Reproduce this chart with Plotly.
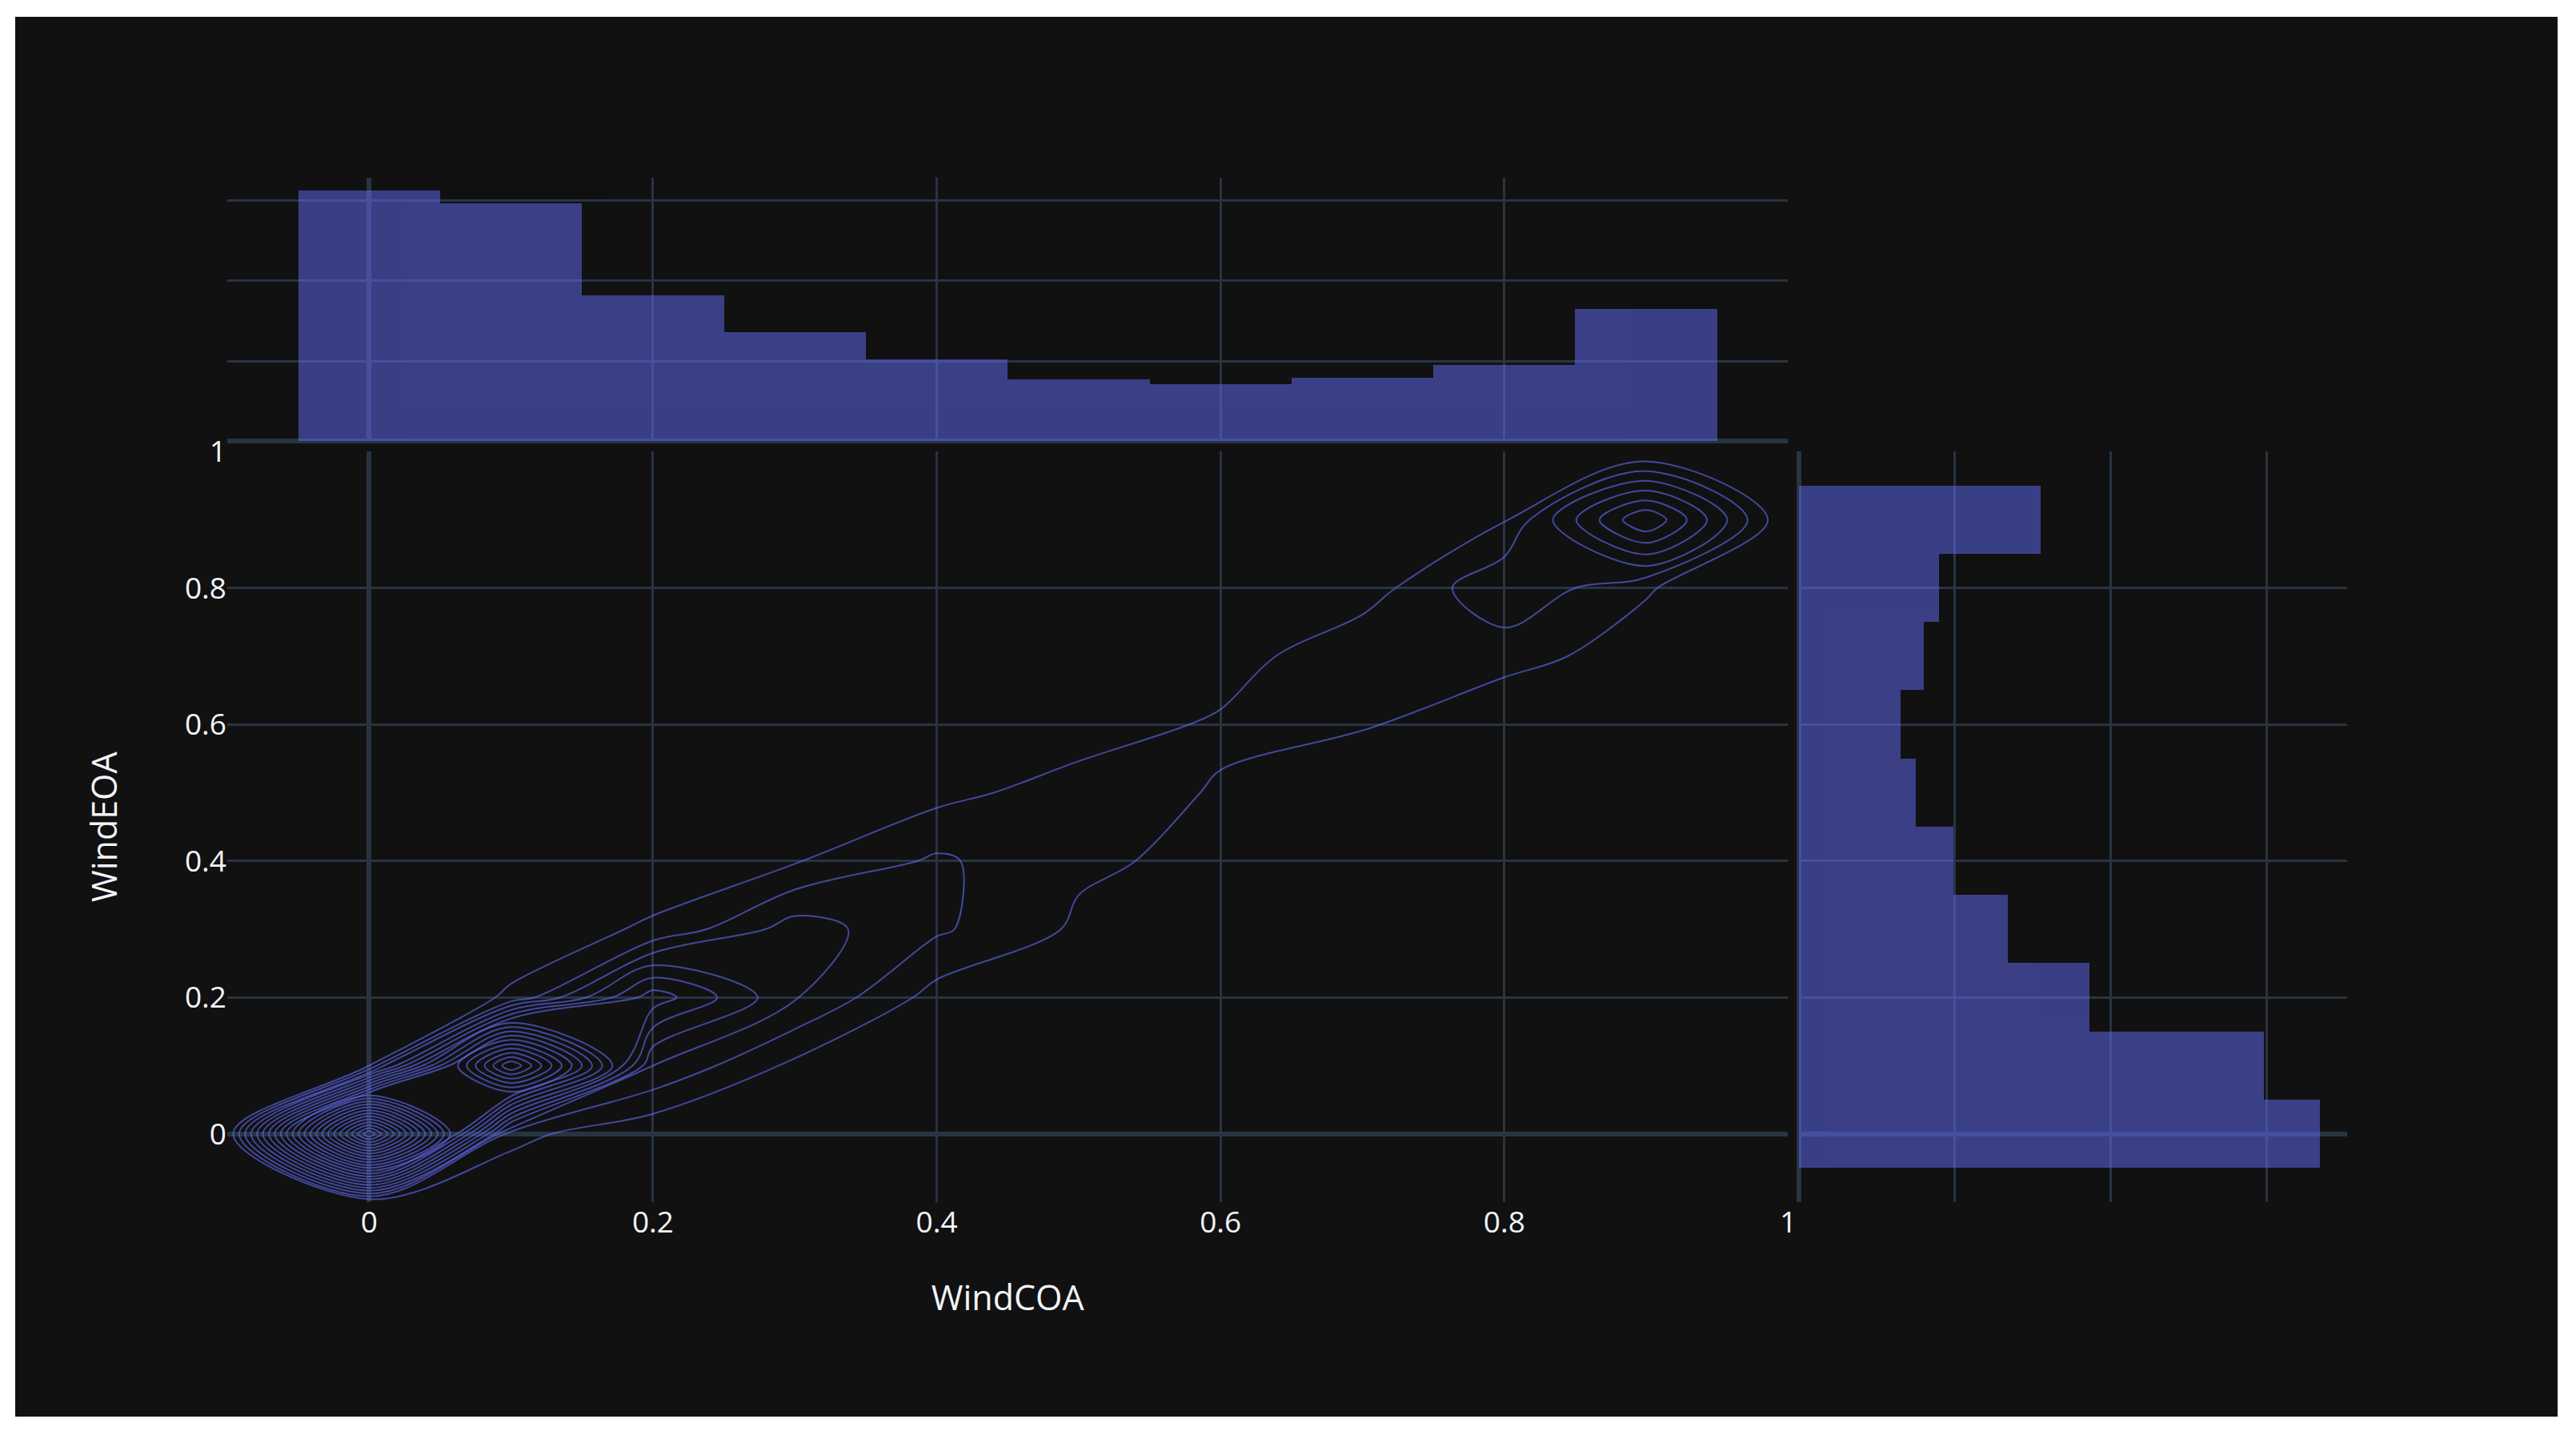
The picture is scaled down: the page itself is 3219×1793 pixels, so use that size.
import plotly.graph_objects as go

# bin centres of the two wind variables
wind_coa = [0.0, 0.1, 0.2, 0.3, 0.4, 0.5, 0.6, 0.7, 0.8, 0.9]
wind_eoa = [0.0, 0.1, 0.2, 0.3, 0.4, 0.5, 0.6, 0.7, 0.8, 0.9]

# counts per (WindEOA row, WindCOA column)
pair_counts = [
    [287, 16, 2, 4, 2, 1, 1, 3, 7, 11],
    [12, 204, 36, 9, 7, 6, 4, 4, 6, 10],
    [4, 13, 79, 37, 7, 11, 11, 9, 4, 11],
    [2, 8, 13, 42, 26, 10, 9, 7, 6, 11],
    [1, 11, 8, 11, 26, 14, 9, 4, 5, 10],
    [1, 10, 8, 9, 8, 18, 11, 4, 2, 4],
    [1, 9, 9, 2, 5, 5, 14, 13, 3, 4],
    [1, 7, 9, 5, 5, 2, 5, 23, 16, 7],
    [1, 8, 7, 7, 5, 4, 5, 5, 35, 13],
    [2, 11, 11, 10, 11, 6, 2, 7, 11, 84],
]

BLUE = "#636efa"
GRID = "#283442"
BG = "rgb(17,17,17)"

xs, ys, ws = [], [], []
for j, yv in enumerate(wind_eoa):
    for i, xv in enumerate(wind_coa):
        xs.append(xv)
        ys.append(yv)
        ws.append(pair_counts[j][i])

hist_bins = dict(start=-0.05, end=0.95, size=0.1)
# one empty bin either side so the density contours close on the edges
contour_bins = dict(start=-0.15, end=1.05, size=0.1)

fig = go.Figure()

fig.add_trace(go.Histogram2dContour(
    x=xs, y=ys, z=ws, histfunc="sum",
    xbins=contour_bins, ybins=contour_bins,
    autocontour=False,
    contours=dict(coloring="none", start=12, end=288, size=12),
    line=dict(color="rgba(99,110,250,0.6)", width=2),
    showscale=False,
    xaxis="x", yaxis="y",
))

fig.add_trace(go.Histogram(
    x=xs, y=ws, histfunc="sum", xbins=hist_bins,
    marker=dict(color=BLUE), opacity=0.5,
    xaxis="x3", yaxis="y3",
))

fig.add_trace(go.Histogram(
    y=ys, x=ws, histfunc="sum", ybins=hist_bins, orientation="h",
    marker=dict(color=BLUE), opacity=0.5,
    xaxis="x2", yaxis="y2",
))

axis_common = dict(gridcolor=GRID, gridwidth=3, zerolinecolor=GRID,
                   zerolinewidth=6, ticks="", showline=False)

fig.update_layout(
    template="plotly_dark",
    width=3177, height=1749,
    paper_bgcolor=BG, plot_bgcolor=BG,
    font=dict(family="Open Sans, verdana, arial, sans-serif", size=37, color="#f2f5fa"),
    margin=dict(l=265, r=263, t=201, b=268),
    showlegend=False,
    bargap=0,
    xaxis=dict(domain=[0, 0.7363], anchor="y", range=[-0.1, 1.0], dtick=0.2,
               title=dict(text="WindCOA", font=dict(size=43), standoff=56),
               **axis_common),
    yaxis=dict(domain=[0, 0.7326], anchor="x", range=[-0.1, 1.0], dtick=0.2,
               title=dict(text="WindEOA", font=dict(size=43), standoff=70),
               **axis_common),
    xaxis2=dict(domain=[0.7413, 1], anchor="y2", dtick=100, showticklabels=False,
                **axis_common),
    yaxis2=dict(domain=[0, 0.7326], anchor="x2", matches="y", showticklabels=False,
                **axis_common),
    xaxis3=dict(domain=[0, 0.7363], anchor="y3", matches="x", showticklabels=False,
                **axis_common),
    yaxis3=dict(domain=[0.7426, 1], anchor="x3", dtick=100, showticklabels=False,
                **axis_common),
)

fig.write_html("out.html", post_script="document.body.style.margin='21px 0 0 19px';")
